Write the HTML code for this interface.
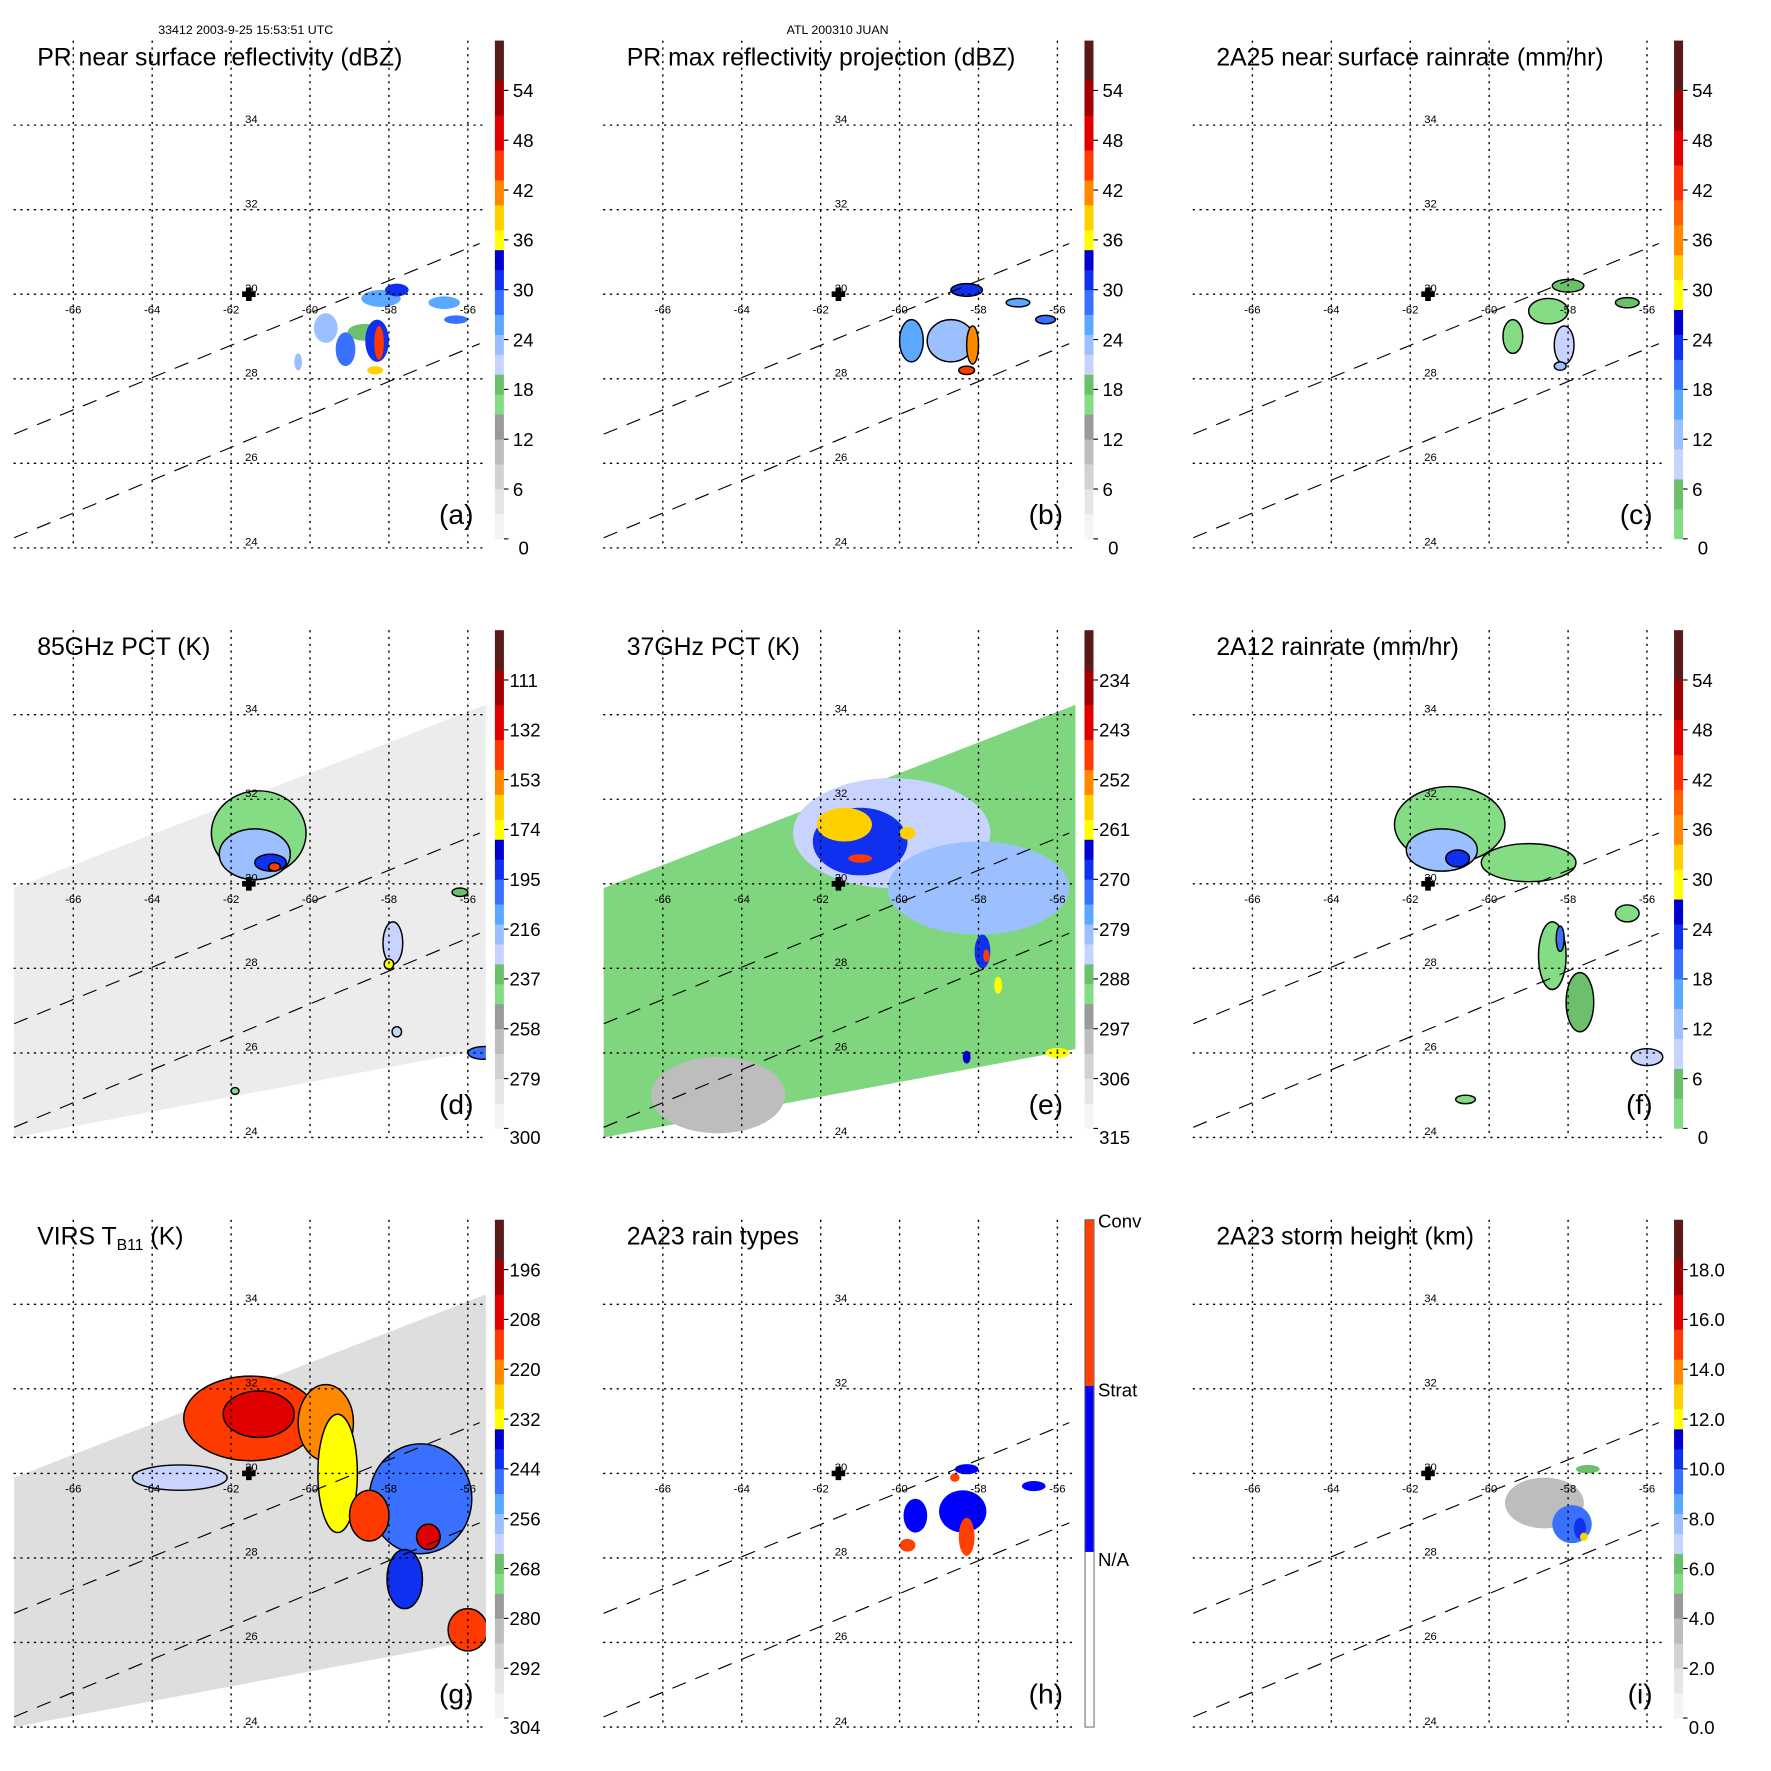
<!DOCTYPE html>
<html><head><meta charset="utf-8"><style>
html,body{margin:0;padding:0;background:#fff;}
svg{display:block;font-family:"Liberation Sans",Arial,sans-serif;}
</style></head><body>
<svg id="fig" width="1771" height="1771" viewBox="0 0 1571 1571" xmlns="http://www.w3.org/2000/svg"></svg>
<script>
// ---------- data ----------
const lonTicks=[-66,-64,-62,-60,-58,-56];
const latTicks=[24,26,28,30,32,34];
const swathInner=[[-67.5,26.69,-55.7,31.2],[-67.5,24.24,-55.7,28.83]];
const swathOuter=[[-67.5,29.9],[-55.5,34.25],[-55.5,26.1],[-67.5,24.0]];
const titles=["PR near surface reflectivity (dBZ)","PR max reflectivity projection (dBZ)","2A25 near surface rainrate (mm/hr)","85GHz PCT (K)","37GHz PCT (K)","2A12 rainrate (mm/hr)","VIRS T","2A23 rain types","2A23 storm height (km)"];
const letters=["(a)","(b)","(c)","(d)","(e)","(f)","(g)","(h)","(i)"];
const cbLabelsA=["0","6","12","18","24","30","36","42","48","54"];
const cbLabelsC=["0","6","12","18","24","30","36","42","48","54"];
const cbLabelsD=["300","279","258","237","216","195","174","153","132","111"];
const cbLabelsE=["315","306","297","288","279","270","261","252","243","234"];
const cbLabelsG=["304","292","280","268","256","244","232","220","208","196"];
const cbLabelsI=["0.0","2.0","4.0","6.0","8.0","10.0","12.0","14.0","16.0","18.0"];
const rangeA=[0,60],rangeC=[0,60],rangeD=[300,90],rangeE=[315,225],rangeG=[304,184],rangeI=[0,20],rangeH=[0,3];
// blobs: [lon, lat, rx(deg lon), ry(deg lat), value]
const blobsA=[[-58.6,29.1,0.45,0.2,18],[-58.2,29.9,0.5,0.2,26],[-57.8,30.1,0.3,0.15,31],[-59.6,29.2,0.3,0.35,24],[-59.1,28.7,0.25,0.4,29],[-58.3,28.9,0.3,0.5,31],[-58.25,28.85,0.12,0.4,44],[-58.35,28.2,0.2,0.1,40],[-56.6,29.8,0.4,0.15,26],[-56.3,29.4,0.3,0.1,29],[-60.3,28.4,0.1,0.2,24]];
const blobsB=[[-58.7,28.9,0.6,0.5,24],[-59.7,28.9,0.3,0.5,26],[-58.3,30.1,0.4,0.15,31],[-58.15,28.8,0.15,0.45,42],[-58.3,28.2,0.2,0.1,44],[-57.0,29.8,0.3,0.1,26],[-56.3,29.4,0.25,0.1,28]];
const blobsC=[[-58.5,29.6,0.5,0.3,3],[-58.0,30.2,0.4,0.15,4],[-59.4,29.0,0.25,0.4,3],[-58.1,28.8,0.25,0.45,8],[-58.2,28.3,0.15,0.1,14],[-56.5,29.8,0.3,0.12,4]];
const blobsD=[[-61.3,31.2,1.2,1.0,240],[-61.4,30.7,0.9,0.6,215],[-61.0,30.5,0.4,0.2,192],[-60.9,30.4,0.15,0.1,140],[-57.9,28.6,0.25,0.5,228],[-58.0,28.1,0.12,0.12,175],[-56.2,29.8,0.2,0.1,236],[-55.6,26.0,0.4,0.15,200],[-57.8,26.5,0.12,0.12,230],[-61.9,25.1,0.1,0.08,240]];
const blobsE=[[-60.2,31.2,2.5,1.3,283],[-58.0,29.9,2.3,1.1,281],[-61.0,31.0,1.2,0.8,268],[-61.4,31.4,0.7,0.4,258],[-59.8,31.2,0.2,0.15,258],[-61.0,30.6,0.3,0.1,245],[-64.6,25.0,1.7,0.9,300],[-57.9,28.4,0.2,0.4,270],[-57.8,28.3,0.08,0.15,250],[-57.5,27.6,0.1,0.2,262],[-56.0,26.0,0.3,0.12,262],[-58.3,25.9,0.1,0.15,265]];
const blobsF=[[-61.0,31.4,1.4,0.9,3],[-61.2,30.8,0.9,0.5,12],[-60.8,30.6,0.3,0.2,22],[-59.0,30.5,1.2,0.45,3],[-58.4,28.3,0.35,0.8,3],[-58.2,28.7,0.1,0.3,20],[-57.7,27.2,0.35,0.7,4],[-56.0,25.9,0.4,0.2,10],[-56.5,29.3,0.3,0.2,3],[-60.6,24.9,0.25,0.1,3]];
const blobsG=[[-61.5,31.3,1.7,1.0,216],[-61.3,31.4,0.9,0.55,204],[-59.6,31.2,0.7,0.9,222],[-59.3,30.0,0.5,1.4,231],[-57.2,29.4,1.3,1.3,248],[-58.5,29.0,0.5,0.6,212],[-63.3,29.9,1.2,0.3,262],[-56.0,26.3,0.5,0.5,216],[-57.6,27.5,0.45,0.7,240],[-57.0,28.5,0.3,0.3,210]];
const blobsH=[[-58.4,29.1,0.6,0.5,1.5],[-59.6,29.0,0.3,0.4,1.5],[-58.3,28.5,0.2,0.45,2.5],[-58.3,30.1,0.3,0.12,1.5],[-59.8,28.3,0.2,0.15,2.5],[-56.6,29.7,0.3,0.12,1.5],[-58.6,29.9,0.12,0.1,2.5]];
const blobsI=[[-58.6,29.3,1.0,0.6,3],[-57.9,28.8,0.5,0.45,9],[-57.7,28.7,0.15,0.25,10.5],[-57.6,28.5,0.1,0.1,12.5],[-57.5,30.1,0.3,0.1,6.5]];
const palA=[[0.05,"#f4f4f4"],[0.1,"#e6e6e6"],[0.15,"#d2d2d2"],[0.2,"#bdbdbd"],[0.25,"#9a9a9a"],[0.29,"#84dd84"],[0.33,"#6cc06c"],[0.37,"#c8d4ff"],[0.41,"#9cc0ff"],[0.45,"#5aa8ff"],[0.5,"#3a70ff"],[0.54,"#1030f0"],[0.58,"#0000d0"],[0.62,"#ffff00"],[0.67,"#ffd000"],[0.72,"#ff8800"],[0.78,"#ff3a00"],[0.85,"#e00000"],[0.92,"#a00000"],[1.01,"#5a1a1a"]];
const palC=[[0.06,"#84dd84"],[0.12,"#6cc06c"],[0.18,"#c8d4ff"],[0.24,"#9cc0ff"],[0.3,"#5aa8ff"],[0.36,"#3a70ff"],[0.41,"#1030f0"],[0.46,"#0000d0"],[0.52,"#ffff00"],[0.57,"#ffd000"],[0.63,"#ff8800"],[0.68,"#ff6000"],[0.75,"#ff3000"],[0.82,"#e00000"],[0.9,"#a00000"],[1.01,"#5a1a1a"]];
const palH=[[0.334,"#ffffff"],[0.667,"#0000ff"],[1.01,"#ff4000"]];

// ---------- drawing ----------
const NS="http://www.w3.org/2000/svg";
const svg=document.getElementById('fig');
function mk(tag,attrs,parent){const e=document.createElementNS(NS,tag);for(const k in attrs)e.setAttribute(k,attrs[k]);(parent||svg).appendChild(e);return e;}
function X(lon){return 65+(lon+66)*35;}
function Y(lat){return 486-(lat-24)*37.5;}
function colorOf(pal,f){for(const s of pal){if(f<s[0])return s[1];}return pal[pal.length-1][1];}
function frac(v,r){return (v-r[0])/(r[1]-r[0]);}

const panels=[
 {blobs:blobsA,pal:palA,range:rangeA,labels:cbLabelsA,outline:false,swath:null},
 {blobs:blobsB,pal:palA,range:rangeA,labels:cbLabelsA,outline:true,swath:null},
 {blobs:blobsC,pal:palC,range:rangeC,labels:cbLabelsC,outline:true,swath:null},
 {blobs:blobsD,pal:palA,range:rangeD,labels:cbLabelsD,outline:true,swath:"#ececec"},
 {blobs:blobsE,pal:palA,range:rangeE,labels:cbLabelsE,outline:false,swath:"#7fd67f"},
 {blobs:blobsF,pal:palC,range:rangeC,labels:cbLabelsC,outline:true,swath:null},
 {blobs:blobsG,pal:palA,range:rangeG,labels:cbLabelsG,outline:true,swath:"#dedede"},
 {blobs:blobsH,pal:palH,range:rangeH,labels:null,outline:false,swath:null},
 {blobs:blobsI,pal:palA,range:rangeI,labels:cbLabelsI,outline:false,swath:null}
];

mk('text',{x:218,y:30,'font-size':11,'text-anchor':'middle'}).textContent="33412 2003-9-25 15:53:51 UTC";


mk('text',{x:743,y:30,'font-size':11,'text-anchor':'middle'}).textContent="ATL 200310 JUAN";



const defs=mk('defs',{});
const cp=mk('clipPath',{id:'plotclip'},defs);
mk('rect',{x:12,y:36,width:419,height:450},cp);

panels.forEach((p,i)=>{
 const ox=(i%3)*523, oy=Math.floor(i/3)*523;
 const g=mk('g',{transform:`translate(${ox},${oy})`});
 
 
 const plot=mk('g',{'clip-path':'url(#plotclip)'},g);
 
 
 if(p.swath){
  const pts=swathOuter.map(c=>X(c[0])+','+Y(c[1])).join(' ');
  const sw=mk('polygon',{points:pts,fill:p.swath},plot);
  
  
 }
 p.blobs.forEach(b=>{
  const e=mk('ellipse',{cx:X(b[0]),cy:Y(b[1]),rx:b[2]*35,ry:b[3]*37.5,fill:colorOf(p.pal,frac(b[4],p.range))},plot);
  if(p.outline){e.setAttribute('stroke','#000');e.setAttribute('stroke-width','1.3');}
  
  
 });
 lonTicks.forEach(lon=>{
  const l=mk('line',{x1:X(lon),x2:X(lon),y1:36,y2:486,stroke:'#000','stroke-width':1.2,'stroke-dasharray':'2,4'},g);
  
  
  const t=mk('text',{x:X(lon),y:278,'font-size':10,'text-anchor':'middle'},g);
  t.textContent=String(lon);
  
  
 });
 latTicks.forEach(lat=>{
  const l=mk('line',{x1:12,x2:431,y1:Y(lat),y2:Y(lat),stroke:'#000','stroke-width':1.2,'stroke-dasharray':'2,4'},g);
  
  
  const t=mk('text',{x:223,y:Y(lat)-2,'font-size':10,'text-anchor':'middle'},g);
  t.textContent=String(lat);
  
  
 });
 swathInner.forEach(s=>{
  const l=mk('line',{x1:X(s[0]),y1:Y(s[1]),x2:X(s[2]),y2:Y(s[3]),stroke:'#000','stroke-width':1,'stroke-dasharray':'13,9'},plot);
  
  
 });
 const cx=X(-61.55), cy=Y(30);
 const cr=mk('path',{d:`M${cx-2.5},${cy-6}h5v3.5h3.5v5h-3.5v3.5h-5v-3.5h-3.5v-5h3.5z`,fill:'#000'},g);
 
 
 const tt=mk('text',{x:33,y:58,'font-size':22},g);
 tt.textContent=titles[i];
 if(i===6){const s=mk('tspan',{'font-size':14,dy:5},tt);s.textContent="B11";const s2=mk('tspan',{dy:-5},tt);s2.textContent=" (K)";}
 
 
 const lt=mk('text',{x:420,y:465,'font-size':25,'text-anchor':'end'},g);
 lt.textContent=letters[i];
 
 
 const cb=mk('g',{},g);
 
 
 const top=36,bot=478,h=bot-top;
 let prev=0;
 p.pal.forEach(s=>{
  const f1=Math.min(s[0],1);
  const r=mk('rect',{x:439,y:bot-f1*h,width:8,height:(f1-prev)*h+0.3,fill:s[1]},cb);
  
  
  prev=f1;
 });
 if(p.labels){
  p.labels.forEach((lab,k)=>{
   const y2=bot-k*(h/10);
   const tk=mk('line',{x1:447,x2:451,y1:y2,y2:y2,stroke:'#000'},cb);
   
   
   const w=lab.length>2?452:455;
   const t=mk('text',{x:(k===0&&lab.length===1)?460:w,y:(k===0?486:y2)+6,'font-size':16.5},cb);
   t.textContent=lab;
   
   
  });
 } else {
  mk('rect',{x:439.5,y:36,width:8,height:450,fill:'none',stroke:'#555','stroke-width':0.8},cb);
  [["Conv",36],["Strat",186],["N/A",336]].forEach(a=>{
   const t=mk('text',{x:451,y:a[1]+7,'font-size':16.5},cb);
   t.textContent=a[0];
   
   
  });
 }
});
</script>
</body></html>
